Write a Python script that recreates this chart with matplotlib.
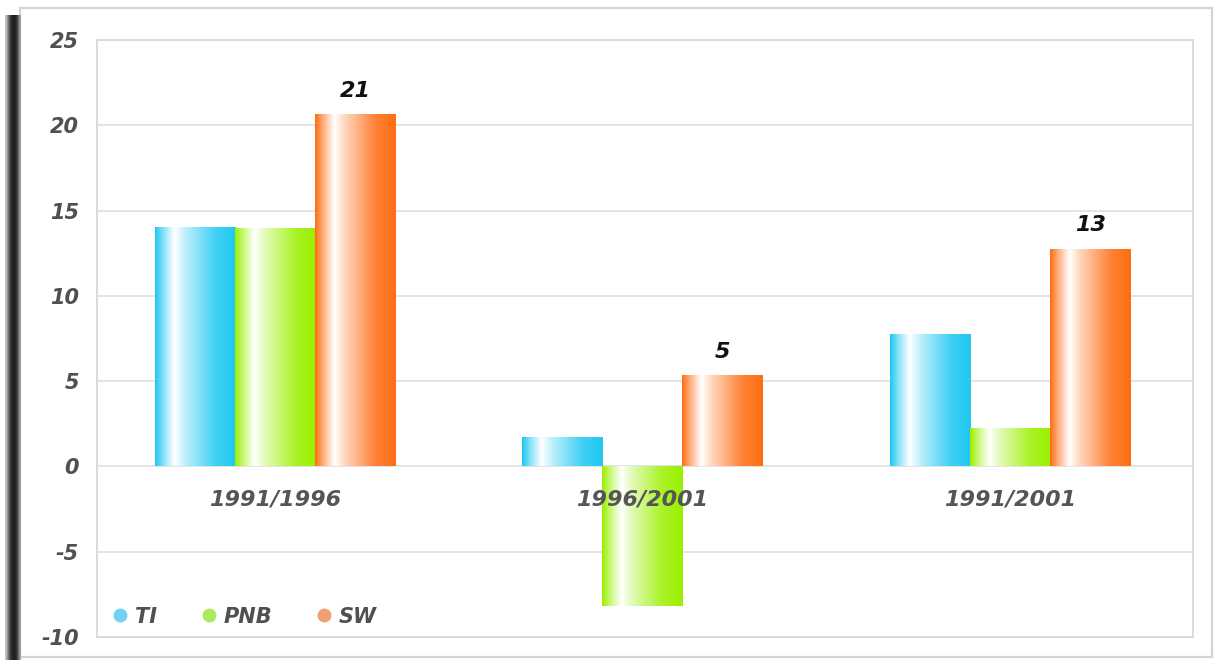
import numpy as np
import matplotlib
matplotlib.use("Agg")
import matplotlib.pyplot as plt
from matplotlib.colors import LinearSegmentedColormap, to_rgb
from matplotlib.lines import Line2D
from matplotlib.patches import Rectangle

# Data
periods = ["1991/1996", "1996/2001", "1991/2001"]
series_names = ["TI", "PNB", "SW"]
ti = [14.0, 1.7, 7.7]
pnb = [13.9, -8.2, 2.2]
sw = [20.6, 5.3, 12.7]
y_ticks = [-10, -5, 0, 5, 10, 15, 20, 25]

colors = ["#1ec8f2", "#9af000", "#ff6c12"]
legend_colors = ["#6fd3f0", "#a9ea5e", "#f0a070"]

text_font = dict(family="DejaVu Sans", style="italic", weight="bold")

fig = plt.figure(figsize=(12.14, 6.6), dpi=100)
W, H = 1214, 660

# Outer frame and dark left edge
frame = Rectangle((20 / W, 3 / H), 1192 / W, 649 / H, transform=fig.transFigure,
                  facecolor="none", edgecolor="#d4d4d4", linewidth=1.6, zorder=-1)
fig.patches.append(frame)
edge_ax = fig.add_axes([5 / W, 0, 16 / W, 645 / H])
edge_grad = np.array([[0.8, 0.45, 0.2, 0.12, 0.12, 0.25, 0.65]])
edge_ax.imshow(edge_grad, cmap="gray", vmin=0, vmax=1, aspect="auto",
               extent=[0, 1, 0, 1], interpolation="bicubic")
edge_ax.axis("off")

ax = fig.add_axes([97 / W, 23 / H, 1096 / W, 597 / H])
ax.set_xlim(-0.484, 2.498)
ax.set_ylim(-10, 25)
ax.set_yticks(y_ticks)
ax.set_yticklabels([str(t) for t in y_ticks])
ax.set_xticks([])
ax.grid(axis="y", color="#e2e2e2", linewidth=1.3)
ax.set_axisbelow(True)
for s in ax.spines.values():
    s.set_color("#d8d8d8")
    s.set_linewidth(1.3)
ax.tick_params(axis="y", length=0, pad=13, labelcolor="#505050", labelsize=15)
for lab in ax.get_yticklabels():
    lab.set_fontstyle("italic")
    lab.set_fontweight("bold")


def bar_cmap(c):
    rgb = np.array(to_rgb(c))
    white = np.ones(3)
    stops = [
        (0.0, rgb),
        (0.10, rgb * 0.55 + white * 0.45),
        (0.24, white),
        (0.38, rgb * 0.3 + white * 0.7),
        (0.75, rgb * 0.85 + white * 0.15),
        (1.0, rgb),
    ]
    return LinearSegmentedColormap.from_list("g", [(p, tuple(v)) for p, v in stops])


x = np.arange(len(periods))
w = 0.218
grad = np.linspace(0, 1, 256).reshape(1, -1)
for i, (vals, c) in enumerate(zip([ti, pnb, sw], colors)):
    bars = ax.bar(x + (i - 1) * w, vals, width=w, facecolor="none",
                  edgecolor="none", zorder=2)
    cmap = bar_cmap(c)
    for b in bars:
        x0, y0 = b.get_x(), b.get_y()
        bw, bh = b.get_width(), b.get_height()
        ax.imshow(grad, cmap=cmap, aspect="auto", zorder=2,
                  extent=[x0, x0 + bw, y0, y0 + bh], interpolation="bilinear")
    if series_names[i] == "SW":
        for xi, v in zip(x + (i - 1) * w, vals):
            ax.text(xi, v + 0.85, f"{v:.0f}", ha="center", va="bottom",
                    fontsize=16, color="#111111", zorder=3, **text_font)

ax.set_xlim(-0.484, 2.498)
ax.set_ylim(-10, 25)

for xi, p in zip(x, periods):
    ax.text(xi, -1.95, p, ha="center", va="center", fontsize=16,
            color="#555555", zorder=3, **text_font)

handles = [Line2D([], [], marker="o", linestyle="none", markersize=9,
                  markerfacecolor=lc, markeredgecolor=lc)
           for lc in legend_colors]
leg = ax.legend(handles, series_names, loc="lower left", ncol=3,
                bbox_to_anchor=(0.002, 0.0), frameon=False, handletextpad=0.2,
                columnspacing=2.0, borderaxespad=0.1, handlelength=1.0,
                prop=dict(family="DejaVu Sans", style="italic", weight="bold",
                          size=15))
for t in leg.get_texts():
    t.set_color("#505050")

fig.savefig("out.png", dpi=100)
